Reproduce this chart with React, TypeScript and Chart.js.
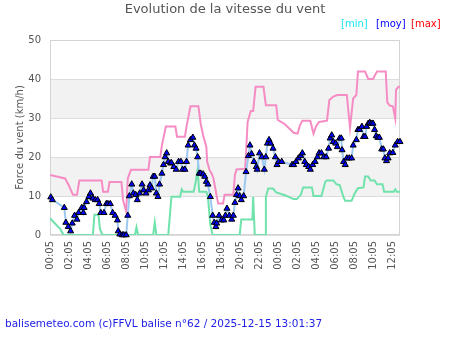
import React, { useEffect, useRef } from "react";
import { Chart, registerables } from "chart.js";

Chart.register(...registerables);

// Times are minutes elapsed since 00:05 on the first day
const moyTimes = [5, 15, 90, 100, 115, 130, 140, 155, 170, 180, 200, 210, 215, 230, 245, 255, 270, 285, 300, 310, 320, 340, 355, 365, 380, 395, 410, 425, 430, 440, 455, 465, 480, 490, 500, 515, 525, 540, 550, 565, 580, 590, 605, 620, 630, 640, 650, 660, 670, 680, 690, 705, 715, 725, 735, 745, 760, 765, 780, 795, 810, 825, 835, 850, 860, 870, 885, 900, 910, 920, 930, 940, 950, 965, 975, 985, 995, 1010, 1025, 1035, 1045, 1050, 1065, 1080, 1095, 1105, 1115, 1130, 1145, 1155, 1165, 1175, 1185, 1195, 1205, 1220, 1235, 1250, 1260, 1270, 1285, 1300, 1305, 1320, 1335, 1350, 1360, 1370, 1380, 1390, 1405, 1420, 1430, 1440, 1460, 1525, 1535, 1550, 1565, 1580, 1590, 1605, 1615, 1630, 1640, 1655, 1670, 1685, 1695, 1710, 1725, 1740, 1755, 1765, 1775, 1785, 1800, 1810, 1825, 1835, 1840, 1850, 1860, 1870, 1885, 1900, 1910, 1930, 1940, 1950, 1965, 1975, 1985, 1995, 2005, 2015, 2025, 2035, 2045, 2055, 2065, 2075, 2090, 2100, 2110, 2120, 2130, 2140, 2160, 2175, 2190, 2205];
const moyValues = [9.7, 9.0, 7.0, 3.2, 2.1, 1.0, 3.0, 5.0, 4.0, 5.7, 7.0, 5.7, 7.0, 8.5, 9.8, 10.7, 9.4, 9.0, 9.0, 8.0, 5.7, 5.7, 8.0, 8.0, 8.0, 5.7, 5.0, 3.8, 1.0, 0.2, 0, 0, 0, 5.0, 10.0, 13.0, 10.7, 10.3, 9.0, 10.7, 13.0, 11.5, 10.7, 11.5, 12.8, 12.0, 15.0, 15.0, 10.7, 9.8, 13.0, 15.8, 18.0, 20.0, 21.0, 18.8, 18.4, 18.5, 17.5, 16.8, 18.8, 18.8, 16.8, 16.8, 18.8, 23.0, 24.4, 25.0, 23.0, 22.2, 20.0, 15.8, 15.8, 15.6, 15.0, 13.7, 13.0, 9.8, 5.0, 3.2, 2.1, 3.0, 5.0, 3.8, 3.8, 5.0, 6.8, 5.0, 4.0, 5.0, 8.3, 10.3, 12.0, 10.0, 9.0, 10.0, 16.2, 20.3, 23.0, 20.8, 18.8, 17.5, 16.8, 21.0, 20.0, 16.8, 20.0, 23.5, 24.4, 23.5, 22.2, 20.0, 18.0, 18.8, 18.8, 18.0, 18.0, 18.8, 19.7, 20.3, 21.0, 18.8, 18.0, 17.5, 16.8, 18.0, 18.8, 20.0, 21.0, 21.0, 20.0, 20.0, 22.2, 24.8, 25.6, 23.9, 23.5, 22.6, 24.8, 24.8, 21.8, 18.8, 18.0, 19.7, 19.7, 19.7, 23.0, 24.4, 27.0, 27.0, 27.8, 25.2, 25.2, 27.8, 28.6, 28.8, 28.6, 28.6, 27.0, 25.4, 25.0, 25.0, 22.0, 22.0, 19.7, 19.0, 19.7, 21.0, 21.1, 23.0, 23.9, 23.9];

const maxTimes = [0, 95, 115, 145, 170, 185, 325, 335, 365, 375, 450, 460, 480, 490, 510, 620, 630, 695, 705, 730, 790, 800, 850, 860, 885, 935, 950, 965, 985, 990, 1005, 1020, 1030, 1050, 1060, 1090, 1100, 1155, 1165, 1175, 1230, 1245, 1265, 1280, 1295, 1345, 1360, 1425, 1435, 1480, 1535, 1560, 1575, 1590, 1640, 1660, 1675, 1695, 1745, 1760, 1785, 1810, 1870, 1890, 1910, 1930, 1940, 1985, 2005, 2035, 2060, 2115, 2125, 2140, 2160, 2175, 2180, 2195, 2205];
const maxValues = [15.4, 14.5, 13.0, 10.3, 10.3, 14.0, 14.0, 11.1, 11.1, 13.6, 13.6, 9.0, 6.0, 14.5, 16.7, 16.7, 20.0, 20.0, 23.0, 27.8, 27.8, 25.2, 25.2, 27.8, 33.0, 33.0, 28.4, 25.5, 22.6, 18.8, 16.7, 15.6, 14.5, 10.0, 8.1, 8.1, 10.3, 10.3, 15.4, 16.8, 17.0, 29.0, 31.8, 31.8, 38.0, 38.0, 33.3, 33.3, 29.5, 28.4, 26.2, 26.0, 28.2, 29.3, 29.3, 26.0, 27.8, 29.0, 29.3, 34.6, 35.5, 35.9, 35.9, 27.5, 35.0, 35.9, 41.9, 41.9, 40.0, 40.0, 41.9, 41.9, 34.0, 33.2, 33.0, 29.9, 37.2, 38.0, 38.0];

const minTimes = [0, 30, 65, 85, 270, 280, 305, 315, 330, 535, 545, 555, 650, 660, 670, 745, 765, 820, 830, 840, 905, 915, 930, 940, 985, 995, 1010, 1025, 1195, 1205, 1275, 1280, 1290, 1355, 1360, 1375, 1405, 1425, 1480, 1535, 1555, 1580, 1595, 1650, 1660, 1710, 1735, 1745, 1785, 1805, 1825, 1850, 1860, 1900, 1920, 1940, 1975, 1985, 2005, 2020, 2045, 2060, 2095, 2105, 2165, 2175, 2185, 2205];
const minValues = [4.3, 3.0, 1.5, 0, 0, 5.2, 5.2, 1.5, 0, 0, 2.0, 0, 0, 3.2, 0, 0, 9.8, 9.8, 11.7, 11.1, 11.1, 13.0, 16.8, 11.1, 11.1, 9.8, 2.6, 0, 0, 4.0, 4.0, 9.8, 0, 0, 9.8, 11.9, 11.9, 10.9, 10.2, 9.2, 9.2, 10.3, 12.2, 12.2, 10.0, 10.0, 13.7, 14.0, 14.0, 13.0, 12.8, 9.6, 8.8, 8.8, 10.7, 12.0, 12.2, 15.0, 15.0, 14.0, 14.0, 13.0, 13.0, 11.1, 11.1, 11.7, 11.1, 11.1];

const xTickValues = [0, 120, 240, 360, 480, 600, 720, 840, 960, 1080, 1200, 1320, 1440, 1560, 1680, 1800, 1920, 2040, 2160];
const xMax = 2205;
const yTicks = [0, 10, 20, 30, 40, 50];

const titleText = "Evolution de la vitesse du vent";
const yTitle = "Force du vent (km/h)";
const legendItems = [
  { text: "[min]", color: "#19e6f0", x: 341 },
  { text: "[moy]", color: "#0000ff", x: 376 },
  { text: "[max]", color: "#ff0000", x: 411 },
];
const footerText = "balisemeteo.com (c)FFVL balise n°62 / 2025-12-15 13:01:37";

const FONT = "'DejaVu Sans', Verdana, sans-serif";

function fmtTime(m: number): string {
  const total = m + 5;
  const hh = Math.floor(total / 60) % 24;
  const mm = total % 60;
  return String(hh).padStart(2, "0") + ":" + String(mm).padStart(2, "0");
}

const pairs = (ts: number[], vs: number[]) => ts.map((t, i) => ({ x: t, y: vs[i] }));

const decorPlugin = {
  id: "decor",
  beforeDraw(chart: any) {
    const { ctx, chartArea } = chart;
    const y = chart.scales.y;
    ctx.save();
    ctx.fillStyle = "#f2f2f2";
    [[10, 20], [30, 40]].forEach(([a, b]) => {
      const top = y.getPixelForValue(b);
      const bot = y.getPixelForValue(a);
      ctx.fillRect(chartArea.left, top, chartArea.right - chartArea.left, bot - top);
    });
    ctx.restore();
  },
  afterDraw(chart: any) {
    const { ctx, chartArea } = chart;
    ctx.save();
    ctx.fillStyle = "#555";
    ctx.font = "13px " + FONT;
    ctx.textAlign = "center";
    ctx.textBaseline = "middle";
    ctx.fillText(titleText, 225, 10);

    ctx.font = "10px " + FONT;
    ctx.textAlign = "left";
    legendItems.forEach((it) => {
      ctx.fillStyle = it.color;
      ctx.fillText(it.text, it.x, 24);
    });

    ctx.save();
    ctx.translate(20, (chartArea.top + chartArea.bottom) / 2);
    ctx.rotate(-Math.PI / 2);
    ctx.fillStyle = "#555";
    ctx.textAlign = "center";
    ctx.font = "10px " + FONT;
    ctx.fillText(yTitle, 0, 0);
    ctx.restore();

    ctx.fillStyle = "#2020e8";
    ctx.font = "10.5px " + FONT;
    ctx.textAlign = "left";
    ctx.fillText(footerText, 5, 324);
    ctx.restore();
  },
  beforeDatasetsDraw(chart: any) {
    const { ctx, chartArea } = chart;
    ctx.save();
    ctx.strokeStyle = "#d4d4d4";
    ctx.lineWidth = 1;
    ctx.strokeRect(chartArea.left + 0.5, chartArea.top + 0.5, chartArea.right - chartArea.left - 1, chartArea.bottom - chartArea.top - 1);
    ctx.restore();
  },
};

export default function App() {
  const ref = useRef<HTMLCanvasElement | null>(null);
  useEffect(() => {
    if (!ref.current) return;
    const chart = new Chart(ref.current, {
      type: "line",
      data: {
        datasets: [
          {
            label: "moy",
            data: pairs(moyTimes, moyValues),
            borderColor: "#9cc8f2",
            borderWidth: 2,
            pointStyle: "triangle",
            pointRadius: 3.5,
            pointBackgroundColor: "#0000ff",
            pointBorderColor: "#000",
            pointBorderWidth: 1,
            tension: 0,
            clip: false,
          },
          {
            label: "max",
            data: pairs(maxTimes, maxValues),
            borderColor: "#f58cc4",
            borderWidth: 2,
            pointRadius: 0,
            tension: 0,
          },
          {
            label: "min",
            data: pairs(minTimes, minValues),
            borderColor: "#70e2ac",
            borderWidth: 2,
            pointRadius: 0,
            tension: 0,
          },
        ],
      },
      options: {
        animation: false,
        responsive: false,
        devicePixelRatio: 1,
        layout: { padding: { top: 40, right: 50, bottom: 55, left: 0 } },
        plugins: { legend: { display: false }, title: { display: false }, tooltip: { enabled: false } },
        scales: {
          x: {
            type: "linear",
            min: 0,
            max: xMax,
            afterBuildTicks: (s: any) => {
              s.ticks = xTickValues.map((v) => ({ value: v }));
            },
            afterFit: (s: any) => {
              s.height = 60;
            },
            grid: { display: false, drawTicks: false },
            border: { display: false },
            ticks: {
              autoSkip: false,
              minRotation: 90,
              maxRotation: 90,
              padding: 6,
              color: "#555",
              font: { family: FONT, size: 10 },
              callback: (v: any) => fmtTime(Number(v)),
            },
          },
          y: {
            min: 0,
            max: 50,
            afterBuildTicks: (s: any) => {
              s.ticks = yTicks.map((v) => ({ value: v }));
            },
            afterFit: (s: any) => {
              s.width = 50;
            },
            grid: { color: "#dcdcdc", drawTicks: false },
            border: { display: false },
            ticks: {
              padding: 9,
              color: "#555",
              font: { family: FONT, size: 10 },
            },
          },
        },
      },
      plugins: [decorPlugin],
    } as any);
    return () => chart.destroy();
  }, []);
  return (
    <div style={{ position: "absolute", left: 0, top: 0, width: 450, height: 350, background: "#fff" }}>
      <canvas ref={ref} width={450} height={350} style={{ width: 450, height: 350 }} />
    </div>
  );
}
